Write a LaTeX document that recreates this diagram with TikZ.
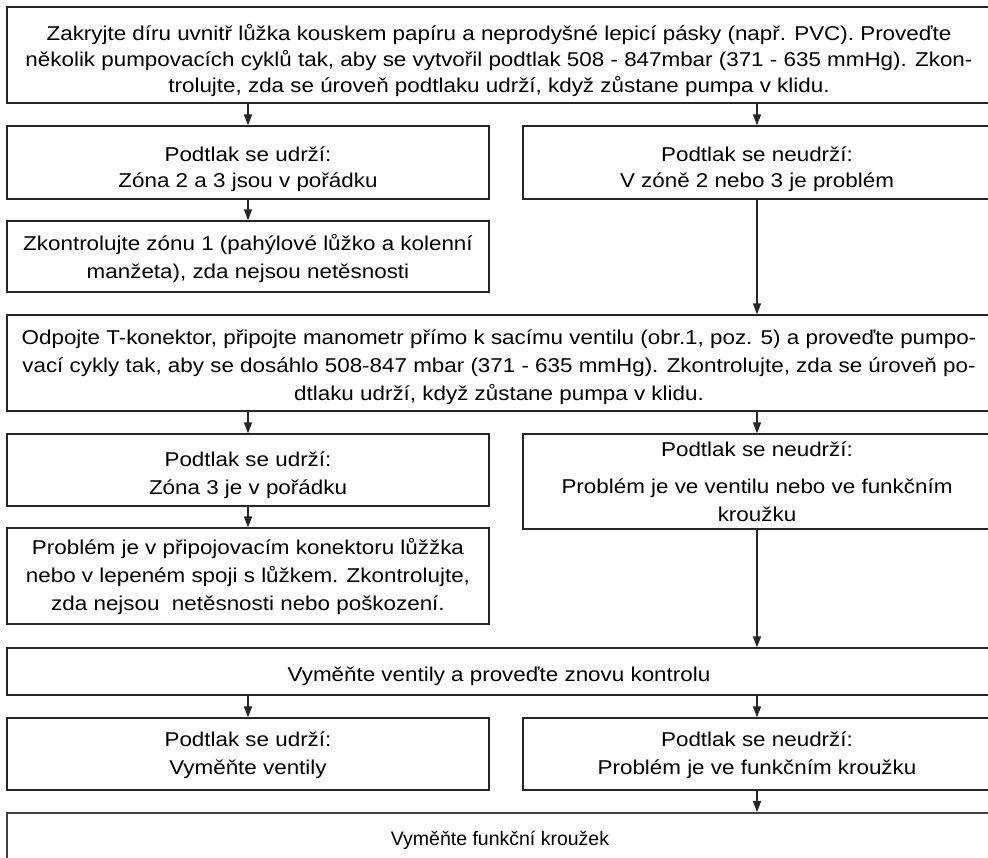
\documentclass[tikz,border=0pt]{standalone}
\usepackage{fontspec}
\setmainfont{Liberation Sans}[FakeStretch=1.12]
\newfontfamily\plainsans{Liberation Sans}
\usetikzlibrary{arrows.meta}
\begin{document}
\begin{tikzpicture}[x=1pt,y=-1pt,
  box/.style={draw=black!85, line width=1.3pt, fill=white, inner sep=0pt},
  halfl/.style={box, minimum width=482pt},
  halfr/.style={box, minimum width=468pt},
  full/.style={box, minimum width=984pt},
  txt/.style={inner sep=0pt, align=center, font=\fontsize{20}{28}\selectfont},
  tighttxt/.style={txt, font=\fontsize{20}{26}\selectfont},
  arr/.style={draw=black!85, line width=1.3pt, -{Triangle[length=11pt,width=8pt]}}]
\clip (0,0) rectangle (988,857);
\fill[white] (0,0) rectangle (988,857);

% box frames
\node[full,  minimum height=96pt] (top) at (499,55) {};
\node[halfl, minimum height=73pt] (l1)  at (248,162.5) {};
\node[halfr, minimum height=73pt] (r1)  at (757,162.5) {};
\node[halfl, minimum height=71pt] (z1)  at (248,256.5) {};
\node[full,  minimum height=96pt] (mid) at (499,363) {};
\node[halfl, minimum height=72pt] (l2)  at (248,470) {};
\node[halfr, minimum height=95pt] (r2)  at (757,481.5) {};
\node[halfl, minimum height=96pt] (p)   at (248,576) {};
\node[full,  minimum height=47pt] (v)   at (499,671.5) {};
\node[halfl, minimum height=72pt] (l3)  at (248,754) {};
\node[halfr, minimum height=72pt] (r3)  at (757,754) {};
\node[full,  minimum height=60pt, line width=1.8pt, draw=black!75] (f) at (499,843) {};

% box texts
\node[tighttxt] (top-t) at (499,61)
  {Zakryjte díru uvnitř lůžka kouskem papíru a neprodyšné lepicí pásky (např. PVC). Proveďte\\
   několik pumpovacích cyklů tak, aby se vytvořil podtlak 508 - 847mbar (371 - 635 mmHg). Zkon-\\
   trolujte, zda se úroveň podtlaku udrží, když zůstane pumpa v klidu.};
\node[tighttxt] (l1-t) at (248,169.5) {Podtlak se udrží:\\Zóna 2 a 3 jsou v pořádku};
\node[tighttxt] (r1-t) at (757,169.5) {Podtlak se neudrží:\\V zóně 2 nebo 3 je problém};
\node[txt] (z1-t) at (248,259)
  {Zkontrolujte zónu 1 (pahýlové lůžko a kolenní\\manžeta), zda nejsou netěsnosti};
\node[txt] (mid-t) at (499,367.5)
  {Odpojte T-konektor, připojte manometr přímo k sacímu ventilu (obr.1, poz. 5) a proveďte pumpo-\\
   vací cykly tak, aby se dosáhlo 508-847 mbar (371 - 635 mmHg). Zkontrolujte, zda se úroveň po-\\
   dtlaku udrží, když zůstane pumpa v klidu.};
\node[txt] (l2-t) at (248,475) {Podtlak se udrží:\\Zóna 3 je v pořádku};
\node[txt] (r2-t) at (757,481.5)
  {Podtlak se neudrží:\\[9pt]Problém je ve ventilu nebo ve funkčním\\kroužku};
\node[txt] (p-t) at (248,576.5)
  {Problém je v připojovacím konektoru lůžžka\\nebo v lepeném spoji s lůžkem. Zkontrolujte,\\zda nejsou\ \ netěsnosti nebo poškození.};
\node[txt] (v-t) at (499,676) {Vyměňte ventily a proveďte znovu kontrolu};
\node[txt] (l3-t) at (248,755.5) {Podtlak se udrží:\\Vyměňte ventily};
\node[txt] (r3-t) at (757,755.5) {Podtlak se neudrží:\\Problém je ve funkčním kroužku};
\node[txt, font=\plainsans\fontsize{19.5}{28}\selectfont] (f-t) at (500,840) {Vyměňte funkční kroužek};

% connectors
\draw[arr] (top.south -| l1) -- (l1.north);
\draw[arr] (top.south -| r1) -- (r1.north);
\draw[arr] (l1.south) -- (z1.north);
\draw[arr] (r1.south) -- (mid.north -| r1);
\draw[arr] (mid.south -| l2) -- (l2.north);
\draw[arr] (mid.south -| r2) -- (r2.north);
\draw[arr] (l2.south) -- (p.north);
\draw[arr] (r2.south) -- (v.north -| r2);
\draw[arr] (v.south -| l3) -- (l3.north);
\draw[arr] (v.south -| r3) -- (r3.north);
\draw[arr] (r3.south) -- (f.north -| r3);
\end{tikzpicture}
\end{document}
